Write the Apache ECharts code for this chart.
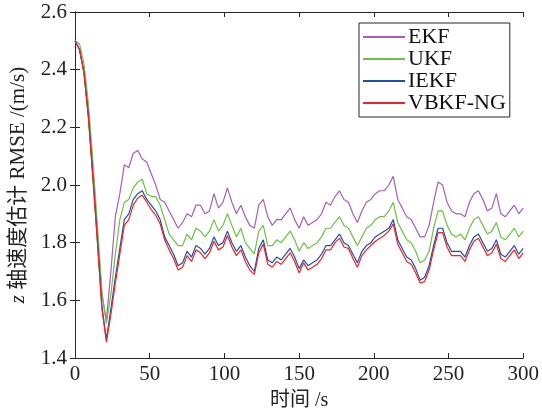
<!DOCTYPE html>
<html>
<head>
<meta charset="utf-8">
<script src="https://cdn.jsdelivr.net/npm/echarts@6/dist/echarts.min.js"></script>
<style>
  html, body { margin: 0; padding: 0; background: #fff; }
  #chart { width: 542px; height: 416px; }
</style>
</head>
<body>
<div id="chart"></div>
<script>
// time stamps (s)
var timeS = [0, 3, 6, 9, 12, 15, 18, 21, 24, 27, 30, 33, 36, 39, 42, 45, 48, 51, 54, 57,
  60, 63, 66, 69, 72, 75, 78, 81, 84, 87, 90, 93, 96, 99, 102, 105, 108, 111, 114, 117,
  120, 123, 126, 129, 132, 135, 138, 141, 144, 147, 150, 153, 156, 159, 162, 165, 168, 171, 174, 177,
  180, 183, 186, 189, 192, 195, 198, 201, 204, 207, 210, 213, 216, 219, 222, 225, 228, 231, 234, 237,
  240, 243, 246, 249, 252, 255, 258, 261, 264, 267, 270, 273, 276, 279, 282, 285, 288, 291, 294, 297, 300];

var ekf = [2.50, 2.47, 2.39, 2.24, 2.04, 1.83, 1.62, 1.53, 1.70, 1.89, 1.97, 2.07, 2.06, 2.11, 2.12, 2.09, 2.08, 2.04, 2.00, 1.95,
  1.94, 1.91, 1.88, 1.85, 1.87, 1.90, 1.89, 1.93, 1.93, 1.90, 1.91, 1.97, 1.92, 1.94, 1.99, 1.94, 1.90, 1.93, 1.89, 1.86,
  1.85, 1.93, 1.95, 1.89, 1.86, 1.88, 1.88, 1.90, 1.92, 1.88, 1.85, 1.89, 1.86, 1.87, 1.88, 1.90, 1.94, 1.93, 1.96, 1.98,
  1.95, 1.94, 1.90, 1.87, 1.91, 1.94, 1.95, 1.97, 1.98, 1.98, 2.00, 2.03, 1.95, 1.92, 1.89, 1.88, 1.85, 1.82, 1.82, 1.86,
  1.94, 2.01, 2.00, 1.94, 1.91, 1.90, 1.90, 1.89, 1.94, 1.97, 1.98, 1.95, 1.91, 1.92, 1.97, 1.90, 1.89, 1.91, 1.93, 1.90, 1.92];

var ukf = [2.50, 2.49, 2.42, 2.28, 2.08, 1.86, 1.63, 1.52, 1.62, 1.76, 1.88, 1.94, 1.95, 1.99, 2.01, 2.02, 1.97, 1.96, 1.96, 1.93,
  1.88, 1.83, 1.81, 1.79, 1.79, 1.83, 1.81, 1.85, 1.84, 1.82, 1.84, 1.88, 1.84, 1.86, 1.90, 1.86, 1.82, 1.85, 1.80, 1.78,
  1.76, 1.84, 1.86, 1.79, 1.79, 1.81, 1.80, 1.82, 1.84, 1.81, 1.77, 1.80, 1.78, 1.79, 1.80, 1.82, 1.85, 1.85, 1.87, 1.89,
  1.86, 1.85, 1.82, 1.79, 1.82, 1.85, 1.86, 1.88, 1.89, 1.89, 1.91, 1.94, 1.87, 1.84, 1.81, 1.80, 1.77, 1.73, 1.74, 1.77,
  1.85, 1.91, 1.91, 1.86, 1.83, 1.82, 1.83, 1.81, 1.85, 1.88, 1.89, 1.86, 1.83, 1.84, 1.87, 1.82, 1.81, 1.83, 1.85, 1.82, 1.84];

var iekf = [2.50, 2.47, 2.39, 2.24, 2.03, 1.81, 1.58, 1.465, 1.57, 1.68, 1.78, 1.88, 1.90, 1.95, 1.97, 1.98, 1.95, 1.93, 1.91, 1.88,
  1.82, 1.79, 1.76, 1.72, 1.73, 1.77, 1.75, 1.79, 1.78, 1.76, 1.78, 1.82, 1.79, 1.80, 1.84, 1.80, 1.77, 1.79, 1.75, 1.72,
  1.70, 1.78, 1.81, 1.74, 1.73, 1.75, 1.74, 1.76, 1.78, 1.75, 1.71, 1.74, 1.72, 1.73, 1.74, 1.76, 1.79, 1.79, 1.81, 1.83,
  1.80, 1.79, 1.76, 1.73, 1.77, 1.79, 1.80, 1.82, 1.83, 1.84, 1.85, 1.88, 1.81, 1.78, 1.75, 1.74, 1.71, 1.67, 1.68, 1.72,
  1.79, 1.85, 1.85, 1.80, 1.77, 1.77, 1.77, 1.75, 1.79, 1.82, 1.83, 1.80, 1.77, 1.78, 1.81, 1.76, 1.75, 1.77, 1.79, 1.76, 1.78];

var vbkfNg = [2.50, 2.47, 2.39, 2.23, 2.02, 1.80, 1.57, 1.455, 1.55, 1.66, 1.76, 1.86, 1.88, 1.93, 1.955, 1.965, 1.94, 1.915, 1.895, 1.865,
  1.81, 1.775, 1.745, 1.705, 1.715, 1.755, 1.735, 1.775, 1.765, 1.745, 1.765, 1.805, 1.775, 1.785, 1.825, 1.785, 1.755, 1.775, 1.735, 1.705,
  1.69, 1.765, 1.795, 1.725, 1.715, 1.735, 1.725, 1.745, 1.765, 1.735, 1.695, 1.73, 1.705, 1.715, 1.725, 1.745, 1.775, 1.775, 1.80, 1.815,
  1.785, 1.78, 1.745, 1.715, 1.755, 1.775, 1.79, 1.805, 1.815, 1.825, 1.84, 1.865, 1.795, 1.765, 1.735, 1.725, 1.695, 1.66, 1.665, 1.705,
  1.775, 1.835, 1.835, 1.785, 1.755, 1.755, 1.755, 1.735, 1.775, 1.805, 1.815, 1.785, 1.755, 1.765, 1.795, 1.745, 1.735, 1.755, 1.775, 1.745, 1.765];

var names = ['EKF', 'UKF', 'IEKF', 'VBKF-NG'];
var colors = ['#A55FB7', '#6DBF45', '#1F4FAA', '#EE2424'];

var serif = '"Liberation Serif", "DejaVu Serif", serif';
var cjk = '"Liberation Serif", "Noto Sans CJK SC", serif';

function pairs (vals) {
  return vals.map(function (v, i) { return [timeS[i], v]; });
}

var chart = echarts.init(document.getElementById('chart'));

var tickStyle = { show: true, inside: true, length: 5, lineStyle: { color: '#262626', width: 1 } };

var option = {
  backgroundColor: '#fff',
  animation: false,
  grid: { left: 71, right: 17, top: 12, bottom: 58 },
  legend: {
    orient: 'vertical',
    left: 359,
    top: 23,
    data: names,
    itemWidth: 42,
    itemHeight: 2,
    itemGap: 0,
    icon: 'rect',
    backgroundColor: '#fff',
    borderColor: '#262626',
    borderWidth: 1,
    borderRadius: 0,
    padding: [3, 4, 3, 4],
    textStyle: { fontFamily: serif, fontSize: 22, lineHeight: 21, color: '#111', padding: [0, 0, 0, -2] }
  },
  xAxis: [{
    type: 'value',
    min: 0, max: 300, interval: 50,
    name: '时间 /s',
    nameLocation: 'middle',
    nameGap: 33,
    nameTextStyle: { fontFamily: cjk, fontSize: 20, color: '#222' },
    axisLine: { lineStyle: { color: '#262626', width: 1 } },
    axisTick: tickStyle,
    axisLabel: { fontFamily: serif, fontSize: 21, color: '#222', margin: 6 },
    splitLine: { show: false }
  }, {
    type: 'value', position: 'top',
    min: 0, max: 300, interval: 50,
    axisLine: { show: true, lineStyle: { color: '#262626', width: 1 } },
    axisTick: tickStyle,
    axisLabel: { show: false },
    splitLine: { show: false }
  }],
  yAxis: [{
    type: 'value',
    min: 1.4, max: 2.6, interval: 0.2,
    name: '{i|z} 轴速度估计 RMSE /(m/s)',
    nameLocation: 'middle',
    nameGap: 46,
    nameTextStyle: {
      fontFamily: cjk, fontSize: 21, color: '#222',
      rich: { i: { fontFamily: serif, fontStyle: 'italic', fontSize: 21, color: '#222' } }
    },
    axisLine: { show: true, lineStyle: { color: '#262626', width: 1 } },
    axisTick: tickStyle,
    axisLabel: {
      fontFamily: serif, fontSize: 21, color: '#222', margin: 8,
      formatter: function (v) { return v.toFixed(1); }
    },
    splitLine: { show: false }
  }, {
    type: 'value', position: 'right',
    min: 1.4, max: 2.6, interval: 0.2,
    axisLine: { show: true, lineStyle: { color: '#262626', width: 1 } },
    axisTick: tickStyle,
    axisLabel: { show: false },
    splitLine: { show: false }
  }],
  series: [ekf, ukf, iekf, vbkfNg].map(function (vals, k) {
    return {
      name: names[k],
      type: 'line',
      data: pairs(vals),
      showSymbol: false,
      symbol: 'none',
      color: colors[k],
      lineStyle: { width: 1.2, color: colors[k] },
      z: 2 + k
    };
  })
};

chart.setOption(option);
</script>
</body>
</html>
